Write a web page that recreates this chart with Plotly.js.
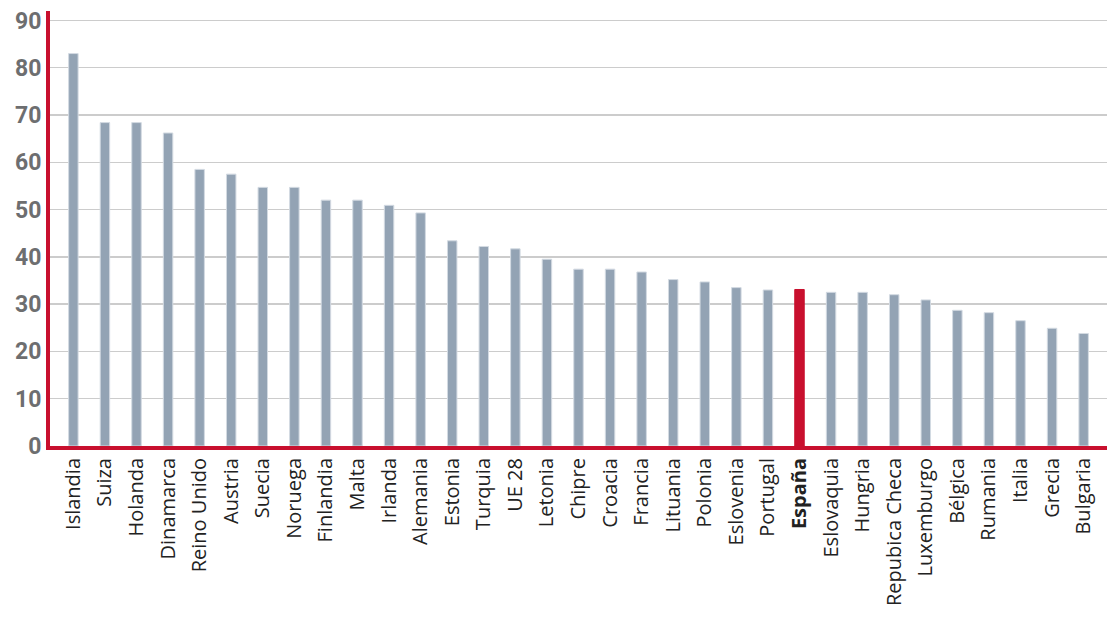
<!DOCTYPE html>
<html><head><meta charset="utf-8">
<script src="https://cdn.plot.ly/plotly-3.0.1.min.js"></script>
<style>body{margin:0;background:#fff}#chart{width:1114px;height:618px}</style>
</head><body><div id="chart"></div>
<script>
const countries = ["Islandia","Suiza","Holanda","Dinamarca","Reino Unido","Austria","Suecia","Noruega","Finlandia","Malta","Irlanda","Alemania","Estonia","Turquia","UE 28","Letonia","Chipre","Croacia","Francia","Lituania","Polonia","Eslovenia","Portugal","España","Eslovaquia","Hungria","Repubica Checa","Luxemburgo","Bélgica","Rumania","Italia","Grecia","Bulgaria"];
const values = [83.0,68.4,68.4,66.2,58.5,57.5,54.7,54.7,52.0,52.0,50.9,49.3,43.4,42.2,41.7,39.5,37.4,37.4,36.8,35.2,34.7,33.5,33.0,33.1,32.5,32.5,32.0,30.9,28.7,28.2,26.5,24.9,23.8];
const highlight = "España";
const yTicks = [0,10,20,30,40,50,60,70,80,90];

const idx = countries.map((c,i)=>i);
const colors = countries.map(c => c===highlight ? "#c8102e" : "#93a3b4");
const lineColors = countries.map(c => c===highlight ? "#c8102e" : "#d3dae2");
const tickText = countries.map(c => c===highlight ? "<b>"+c+"</b>" : c);

Plotly.newPlot("chart", [{
  type: "bar",
  x: idx,
  y: values,
  width: 0.3,
  marker: {color: colors, line: {color: lineColors, width: 1}},
  hoverinfo: "x+y"
}], {
  width: 1114, height: 618,
  margin: {l: 50, r: 7, t: 11, b: 172},
  paper_bgcolor: "#fff", plot_bgcolor: "#fff",
  showlegend: false,
  xaxis: {
    range: [-0.74, 32.74],
    tickvals: idx, ticktext: tickText,
    tickangle: -90,
    showgrid: false, zeroline: false,
    showline: true, linecolor: "#c8102e", linewidth: 4,
    ticks: "", ticklen: 0,
    tickfont: {family: "Open Sans", size: 20, color: "#222"}
  },
  yaxis: {
    range: [0, 92],
    tickvals: yTicks,
    showgrid: true, gridcolor: "#cccccc", gridwidth: 1.5,
    zeroline: false,
    showline: true, linecolor: "#c8102e", linewidth: 4,
    ticks: "",
    tickfont: {family: "Liberation Sans Narrow, Roboto", size: 23, color: "#6d6e70", weight: "bold"}
  }
}, {displayModeBar: false, staticPlot: true});
</script></body></html>
